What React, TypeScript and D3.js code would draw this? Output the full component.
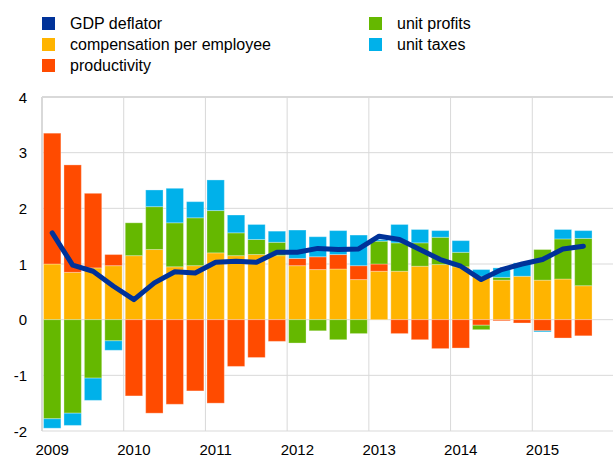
import React from "react";
import * as d3 from "d3";

const quarters: string[] = [];
for (let y = 2009; y <= 2015; y++) for (let q = 1; q <= 4; q++) quarters.push(`${y}Q${q}`);

const yearLabels = ["2009", "2010", "2011", "2012", "2013", "2014", "2015"];
const yTicks = [-2, -1, 0, 1, 2, 3, 4];

const compensation = [1.0, 0.85, 0.93, 0.97, 1.15, 1.26, 0.95, 0.97, 1.2, 1.15, 1.17, 1.15, 0.97, 0.9, 0.91, 0.72, 0.87, 0.87, 0.96, 0.99, 0.95, 0.78, 0.71, 0.78, 0.71, 0.73, 0.61];
const productivity = [2.35, 1.93, 1.34, 0.2, -1.37, -1.68, -1.52, -1.28, -1.5, -0.84, -0.68, -0.39, 0.13, 0.23, 0.26, 0.25, 0.13, -0.25, -0.36, -0.52, -0.51, -0.1, -0.02, -0.06, -0.2, -0.33, -0.29];
const unitProfits = [-1.78, -1.68, -1.05, -0.38, 0.59, 0.77, 0.79, 0.86, 0.76, 0.41, 0.27, 0.24, -0.42, -0.2, -0.36, -0.25, 0.41, 0.51, 0.42, 0.49, 0.26, -0.08, 0.05, 0, 0.55, 0.72, 0.85];
const unitTaxes = [-0.17, -0.22, -0.4, -0.17, 0, 0.3, 0.62, 0.29, 0.55, 0.32, 0.27, 0.2, 0.51, 0.36, 0.43, 0.55, 0.03, 0.33, 0.24, 0.12, 0.21, 0.12, 0.17, 0.24, -0.02, 0.17, 0.14];
const gdpDeflator = [1.56, 0.98, 0.87, 0.6, 0.36, 0.66, 0.86, 0.84, 1.03, 1.05, 1.03, 1.21, 1.21, 1.28, 1.26, 1.27, 1.5, 1.44, 1.26, 1.08, 0.96, 0.72, 0.9, 1.0, 1.08, 1.27, 1.32];

const seriesKeys = ["compensation", "productivity", "unitProfits", "unitTaxes"];
const seriesColors: Record<string, string> = {
  compensation: "#FFB400",
  productivity: "#FF4B00",
  unitProfits: "#65B800",
  unitTaxes: "#00B1EA",
};
const deflatorColor = "#003299";

const legendItems = [
  { label: "GDP deflator", color: deflatorColor, col: 0, row: 0 },
  { label: "compensation per employee", color: "#FFB400", col: 0, row: 1 },
  { label: "productivity", color: "#FF4B00", col: 0, row: 2 },
  { label: "unit profits", color: "#65B800", col: 1, row: 0 },
  { label: "unit taxes", color: "#00B1EA", col: 1, row: 1 },
];

export default function App() {
  const W = 613, H = 457;
  const left = 42, right = 614, top = 97, bottom = 431;
  const font = "'Liberation Sans', Arial, sans-serif";

  const x = d3.scaleBand<string>().domain(quarters).range([left, right]).paddingInner(0.15).paddingOuter(0.075);
  const y = d3.scaleLinear().domain([-2, 4]).range([bottom, top]);
  const step = x.step();
  const n = compensation.length;

  const rows = d3.range(n).map((i) => ({
    q: quarters[i],
    compensation: compensation[i],
    productivity: productivity[i],
    unitProfits: unitProfits[i],
    unitTaxes: unitTaxes[i],
  }));
  const stacked = d3.stack<any>().keys(seriesKeys).offset(d3.stackOffsetDiverging)(rows);

  const line = d3
    .line<number>()
    .x((_, i) => (x(quarters[i]) as number) + x.bandwidth() / 2)
    .y((d) => y(d));

  const yearX = (k: number) => left + k * 4 * step;

  return (
    <svg width={W} height={H} style={{ position: "absolute", left: 0, top: 0, display: "block", background: "#fff" }}>
      {/* grid */}
      {yTicks.map((t) => (
        <line key={"h" + t} x1={left} x2={W} y1={y(t)} y2={y(t)} stroke="#d9d9d9" strokeWidth={t === 4 ? 2 : 1} />
      ))}
      {d3.range(1, 7).map((k) => (
        <line key={"v" + k} x1={yearX(k)} x2={yearX(k)} y1={top} y2={bottom} stroke="#d9d9d9" strokeWidth={1} />
      ))}
      <line x1={left} x2={left} y1={top} y2={bottom} stroke="#d9d9d9" strokeWidth={2} />

      {/* bars */}
      {stacked.map((s) => (
        <g key={s.key} fill={seriesColors[s.key]}>
          {s.map((d, i) => {
            const y0 = y(d[0]);
            const y1 = y(d[1]);
            const h = Math.abs(y0 - y1);
            if (h < 0.01) return null;
            return (
              <rect
                key={i}
                x={x(quarters[i])}
                width={x.bandwidth()}
                y={Math.min(y0, y1)}
                height={h}
                stroke="#ffffff"
                strokeOpacity={0.3}
                strokeWidth={1}
              />
            );
          })}
        </g>
      ))}

      {/* deflator line */}
      <path d={line(gdpDeflator) || ""} fill="none" stroke={deflatorColor} strokeWidth={5} strokeLinejoin="round" strokeLinecap="round" />

      {/* y labels */}
      {yTicks.map((t) => (
        <text key={"yl" + t} x={27} y={y(t) + 5.5} textAnchor="end" fontFamily={font} fontSize={15} fill="#000">
          {t}
        </text>
      ))}

      {/* x labels */}
      {yearLabels.map((lbl, k) => (
        <text key={lbl} x={(x(`${lbl}Q1`) as number) + x.bandwidth() / 2} y={455} textAnchor="middle" fontFamily={font} fontSize={15} fill="#000">
          {lbl}
        </text>
      ))}

      {/* legend */}
      {legendItems.map((it) => {
        const lx = it.col === 0 ? 42 : 369;
        const ly = 17 + it.row * 21;
        return (
          <g key={it.label}>
            <rect x={lx} y={ly} width={13} height={13} fill={it.color} />
            <text x={lx + 28} y={ly + 12} fontFamily={font} fontSize={16} fill="#000">
              {it.label}
            </text>
          </g>
        );
      })}
    </svg>
  );
}
